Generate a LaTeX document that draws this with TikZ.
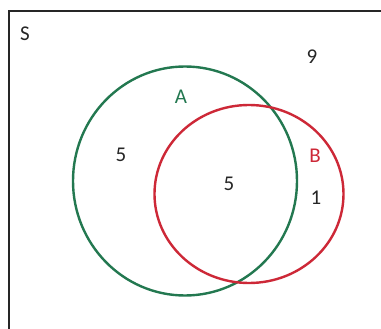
\documentclass[tikz,border=0pt]{standalone}
\usepackage{fontspec}
\setmainfont{Carlito}
\usetikzlibrary{shapes.geometric}
\definecolor{agreen}{RGB}{35,120,80}
\definecolor{bred}{RGB}{205,40,55}
\begin{document}
\begin{tikzpicture}[x=1pt,y=-1pt,
  lbl/.style={font=\fontsize{21}{24}\selectfont, inner sep=0pt, text=black!85},
  setA/.style={draw=agreen, line width=2.4pt},
  setB/.style={draw=bred, line width=2.4pt}]
\useasboundingbox (0,0) rectangle (381,329);
\fill[white] (0,0) rectangle (381,329);
\draw[line width=2.6pt, black!85] (9,335) -- (9,11) -- (390,11);
\node[setA, ellipse, minimum width=224pt, minimum height=229pt, inner sep=0pt] (A) at (185,181) {};
\node[setB, ellipse, minimum width=189pt, minimum height=178pt, inner sep=0pt] (B) at (249,194) {};
\node[lbl] (S) at (25,34) {S};
\node[lbl] (n9) at (312,57) {9};
\node[lbl, text=agreen] (la) at (181,97) {A};
\node[lbl] (n5a) at (121,155) {5};
\node[lbl] (n5ab) at (229,184) {5};
\node[lbl, text=bred] (lb) at (315,156) {B};
\node[lbl] (n1) at (316,198) {1};
\end{tikzpicture}
\end{document}
